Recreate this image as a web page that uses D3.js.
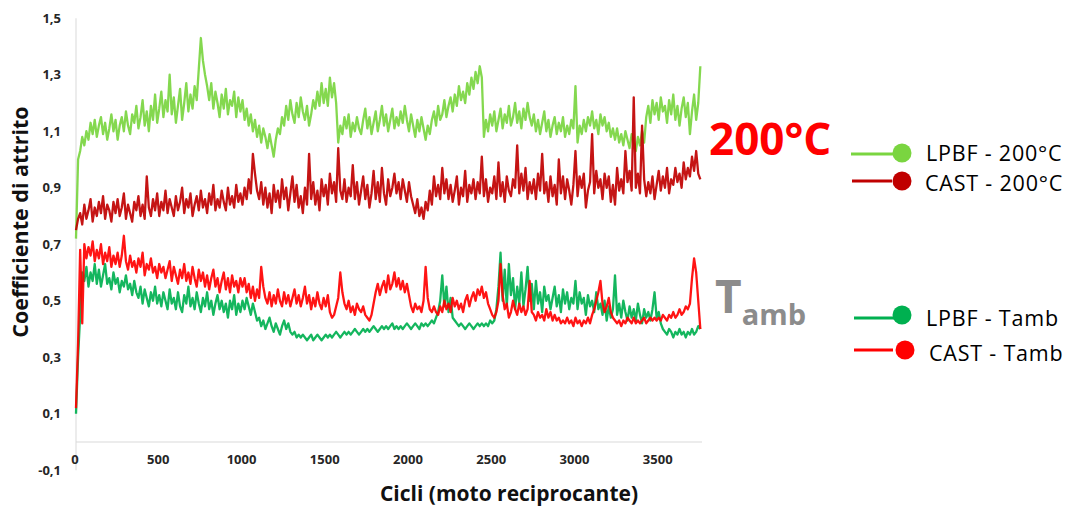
<!DOCTYPE html>
<html>
<head>
<meta charset="utf-8">
<script src="https://cdn.jsdelivr.net/npm/d3@7"></script>
<style>
  html, body { margin: 0; padding: 0; background: #fff; }
  svg { display: block; font-family: "Open Sans", sans-serif; }
</style>
</head>
<body>
<svg id="chart" width="1079" height="508"></svg>
<script>
const cycleStep = 12.5;
const xTicks = [0, 500, 1000, 1500, 2000, 2500, 3000, 3500];
const yTicks = [-0.1, 0.1, 0.3, 0.5, 0.7, 0.9, 1.1, 1.3, 1.5];

const lpbf200 = [
0.72,1.00,1.03,1.08,1.05,1.10,1.07,1.13,1.09,1.14,1.08,1.12,1.15,1.09,1.13,1.07,1.11,1.16,1.10,1.14,
1.07,1.12,1.15,1.10,1.17,1.12,1.09,1.16,1.13,1.19,1.11,1.15,1.21,1.12,1.17,1.10,1.19,1.14,1.23,1.13,
1.18,1.24,1.15,1.21,1.17,1.30,1.16,1.22,1.13,1.19,1.25,1.14,1.20,1.27,1.17,1.23,1.18,1.26,1.21,1.32,
1.43,1.35,1.30,1.26,1.21,1.27,1.18,1.24,1.20,1.15,1.23,1.18,1.25,1.16,1.21,1.19,1.24,1.15,1.22,1.17,
1.21,1.14,1.18,1.12,1.16,1.10,1.14,1.08,1.12,1.06,1.11,1.08,1.04,1.09,1.05,1.01,1.07,1.11,1.09,1.15,
1.12,1.19,1.14,1.21,1.16,1.13,1.20,1.15,1.22,1.17,1.14,1.19,1.12,1.16,1.21,1.18,1.24,1.19,1.27,1.20,
1.25,1.19,1.29,1.22,1.27,1.20,1.06,1.12,1.09,1.15,1.11,1.16,1.08,1.13,1.10,1.15,1.11,1.09,1.14,1.18,
1.11,1.15,1.09,1.13,1.17,1.10,1.14,1.19,1.12,1.16,1.10,1.14,1.18,1.11,1.15,1.12,1.17,1.13,1.19,1.14,
1.10,1.16,1.12,1.08,1.14,1.10,1.15,1.11,1.07,1.12,1.09,1.14,1.17,1.12,1.19,1.14,1.16,1.21,1.15,1.19,
1.22,1.17,1.23,1.19,1.26,1.21,1.24,1.20,1.27,1.23,1.29,1.25,1.31,1.27,1.33,1.29,1.08,1.14,1.10,1.16,
1.12,1.17,1.10,1.14,1.18,1.11,1.16,1.13,1.19,1.12,1.15,1.20,1.13,1.17,1.11,1.18,1.14,1.20,1.15,1.12,
1.16,1.10,1.14,1.09,1.13,1.17,1.10,1.14,1.08,1.12,1.15,1.09,1.13,1.10,1.15,1.08,1.12,1.09,1.14,1.11,
1.26,1.06,1.12,1.09,1.14,1.10,1.15,1.12,1.17,1.11,1.14,1.09,1.16,1.12,1.15,1.10,1.13,1.08,1.11,1.07,
1.11,1.06,1.09,1.05,1.10,1.07,1.04,1.09,1.06,1.03,1.08,1.05,1.10,1.06,1.15,1.19,1.13,1.21,1.16,1.20,
1.14,1.22,1.17,1.19,1.13,1.21,1.16,1.23,1.14,1.19,1.12,1.18,1.22,1.15,1.20,1.09,1.17,1.23,1.14,1.20,
1.33];

const cast200 = [
0.75,0.79,0.81,0.77,0.84,0.79,0.82,0.86,0.78,0.83,0.80,0.85,0.81,0.87,0.79,0.84,0.82,0.78,0.85,0.81,
0.86,0.80,0.83,0.88,0.79,0.84,0.81,0.78,0.85,0.82,0.87,0.80,0.84,0.79,0.94,0.83,0.80,0.86,0.82,0.88,
0.80,0.85,0.82,0.89,0.81,0.86,0.83,0.80,0.87,0.82,0.85,0.90,0.81,0.86,0.83,0.88,0.80,0.84,0.87,0.82,
0.89,0.83,0.86,0.81,0.88,0.84,0.91,0.82,0.86,0.83,0.89,0.85,0.82,0.90,0.84,0.87,0.83,0.91,0.85,0.88,
0.84,0.90,0.86,0.93,0.88,1.02,0.95,0.89,0.86,0.92,0.84,0.90,0.83,0.88,0.81,0.91,0.85,0.89,0.83,0.93,
0.86,0.90,0.82,0.88,0.94,0.85,0.91,0.83,0.87,0.81,0.90,0.84,1.02,0.86,0.92,0.84,0.89,0.82,0.93,0.87,
0.91,0.84,0.95,0.88,0.92,0.85,1.04,0.89,0.86,0.93,0.85,0.90,0.87,0.98,0.86,0.92,0.84,0.89,0.94,0.86,
0.91,0.83,0.88,0.96,0.86,0.92,0.85,0.97,0.88,0.84,0.93,0.87,0.90,0.95,0.88,0.92,0.86,0.93,0.89,0.85,
0.92,0.87,0.84,0.81,0.86,0.80,0.83,0.79,0.85,0.82,0.89,0.84,0.94,0.87,0.91,0.86,0.97,0.88,0.93,0.86,
0.91,0.85,0.89,0.94,0.84,0.90,0.87,0.96,0.85,0.91,0.88,0.93,0.86,0.92,0.88,1.01,0.87,0.93,0.85,0.90,
0.88,0.94,0.86,0.99,0.87,0.92,0.85,0.94,0.89,0.87,0.93,0.90,1.05,0.88,0.95,0.89,0.97,0.86,0.92,0.88,
0.93,0.86,0.95,0.89,1.02,0.88,0.92,0.85,0.94,0.87,0.91,0.84,1.00,0.88,0.94,0.86,0.93,0.89,0.84,0.91,
1.03,0.87,0.94,0.90,0.95,0.83,0.89,0.92,1.09,0.88,0.96,0.90,0.93,0.86,0.95,0.90,0.94,0.85,0.91,0.84,
0.97,0.89,0.93,0.88,1.03,0.92,0.96,0.89,1.22,0.90,0.95,0.88,1.12,0.93,0.87,0.92,0.88,0.94,0.86,0.91,
0.96,0.89,0.94,0.90,0.97,0.88,0.93,0.91,0.97,0.92,0.95,0.90,0.99,0.93,0.97,0.94,1.01,0.96,1.03,0.95,
0.93];

const lpbfTamb = [
0.10,0.30,0.45,0.60,0.57,0.62,0.55,0.60,0.57,0.63,0.56,0.61,0.55,0.59,0.63,0.56,0.58,0.54,0.60,0.56,
0.58,0.53,0.57,0.55,0.59,0.54,0.56,0.52,0.57,0.53,0.51,0.55,0.49,0.54,0.51,0.48,0.53,0.50,0.55,0.49,
0.52,0.48,0.53,0.50,0.47,0.54,0.49,0.51,0.47,0.53,0.48,0.46,0.52,0.49,0.55,0.48,0.51,0.47,0.53,0.49,
0.46,0.51,0.48,0.53,0.47,0.50,0.45,0.49,0.52,0.47,0.50,0.46,0.49,0.44,0.50,0.47,0.52,0.45,0.49,0.46,
0.50,0.47,0.51,0.48,0.45,0.49,0.46,0.43,0.44,0.41,0.43,0.40,0.42,0.44,0.41,0.39,0.42,0.40,0.38,0.41,
0.43,0.40,0.42,0.39,0.38,0.39,0.37,0.38,0.37,0.38,0.37,0.36,0.37,0.38,0.36,0.37,0.38,0.37,0.36,0.37,
0.38,0.37,0.38,0.37,0.38,0.39,0.38,0.37,0.38,0.39,0.38,0.39,0.38,0.39,0.40,0.39,0.38,0.39,0.40,0.39,
0.40,0.39,0.40,0.41,0.40,0.39,0.40,0.41,0.40,0.41,0.40,0.41,0.42,0.40,0.41,0.40,0.41,0.40,0.41,0.42,
0.41,0.40,0.41,0.42,0.41,0.40,0.42,0.41,0.42,0.41,0.42,0.43,0.42,0.44,0.46,0.50,0.59,0.48,0.55,0.46,
0.51,0.44,0.43,0.42,0.41,0.42,0.41,0.40,0.41,0.42,0.41,0.40,0.41,0.42,0.41,0.42,0.41,0.42,0.41,0.43,
0.42,0.43,0.47,0.55,0.67,0.50,0.61,0.48,0.63,0.52,0.58,0.47,0.55,0.49,0.60,0.48,0.54,0.62,0.50,0.56,
0.47,0.57,0.49,0.53,0.46,0.55,0.50,0.52,0.47,0.51,0.55,0.48,0.52,0.46,0.54,0.49,0.53,0.47,0.51,0.49,
0.57,0.47,0.53,0.49,0.51,0.45,0.52,0.48,0.50,0.46,0.53,0.47,0.49,0.45,0.50,0.43,0.48,0.44,0.47,0.59,
0.45,0.49,0.44,0.50,0.46,0.43,0.48,0.44,0.47,0.43,0.49,0.45,0.42,0.47,0.44,0.46,0.43,0.47,0.53,0.44,
0.46,0.42,0.40,0.39,0.38,0.40,0.39,0.37,0.39,0.38,0.40,0.38,0.39,0.37,0.39,0.38,0.40,0.38,0.39,0.41,
0.40];

const castTamb = [
0.12,0.35,0.68,0.42,0.70,0.65,0.69,0.66,0.71,0.64,0.68,0.65,0.70,0.63,0.67,0.64,0.69,0.62,0.66,0.63,
0.67,0.62,0.66,0.73,0.64,0.61,0.66,0.62,0.64,0.60,0.65,0.62,0.67,0.59,0.63,0.61,0.65,0.60,0.62,0.58,
0.63,0.60,0.62,0.58,0.61,0.64,0.57,0.62,0.59,0.56,0.61,0.58,0.63,0.57,0.60,0.56,0.62,0.58,0.55,0.61,
0.57,0.60,0.55,0.59,0.54,0.58,0.61,0.55,0.58,0.53,0.57,0.60,0.54,0.58,0.53,0.59,0.55,0.57,0.53,0.58,
0.55,0.58,0.53,0.56,0.51,0.55,0.50,0.54,0.51,0.62,0.55,0.51,0.49,0.53,0.48,0.52,0.49,0.54,0.50,0.48,
0.53,0.49,0.52,0.48,0.51,0.54,0.49,0.52,0.48,0.51,0.55,0.49,0.52,0.47,0.51,0.48,0.53,0.49,0.47,0.51,
0.48,0.52,0.46,0.44,0.45,0.48,0.51,0.60,0.53,0.49,0.47,0.50,0.46,0.48,0.45,0.49,0.47,0.46,0.48,0.45,
0.44,0.43,0.45,0.49,0.53,0.56,0.52,0.55,0.57,0.53,0.59,0.54,0.56,0.60,0.55,0.58,0.54,0.57,0.53,0.56,
0.52,0.48,0.46,0.49,0.47,0.48,0.46,0.50,0.62,0.51,0.47,0.46,0.48,0.46,0.45,0.48,0.46,0.50,0.47,0.49,
0.46,0.51,0.48,0.50,0.47,0.49,0.46,0.50,0.52,0.48,0.51,0.53,0.50,0.54,0.52,0.55,0.51,0.53,0.49,0.47,
0.45,0.44,0.46,0.50,0.63,0.52,0.47,0.49,0.44,0.46,0.50,0.47,0.45,0.49,0.46,0.48,0.45,0.47,0.57,0.46,
0.45,0.43,0.46,0.44,0.45,0.43,0.47,0.44,0.46,0.43,0.45,0.43,0.44,0.42,0.43,0.42,0.44,0.42,0.43,0.41,
0.44,0.42,0.43,0.41,0.43,0.42,0.44,0.42,0.45,0.47,0.50,0.53,0.57,0.49,0.46,0.48,0.51,0.46,0.44,0.43,
0.42,0.43,0.41,0.43,0.42,0.44,0.43,0.42,0.44,0.42,0.43,0.42,0.43,0.44,0.42,0.43,0.44,0.43,0.44,0.43,
0.44,0.43,0.45,0.44,0.43,0.45,0.44,0.46,0.44,0.45,0.47,0.45,0.46,0.48,0.47,0.49,0.58,0.65,0.60,0.50,
0.40];

const seriesNames = ["LPBF - 200°C", "CAST - 200°C", "LPBF - Tamb", "CAST - Tamb"];
const seriesColors = ["#7ad540", "#c00000", "#00b050", "#ff0000"];
const seriesData = [lpbf200, cast200, lpbfTamb, castTamb];

// ---- chart ----
const svg = d3.select("#chart");
const x = d3.scaleLinear().domain([0, 3760]).range([76, 702]);
const y = d3.scaleLinear().domain([-0.1, 1.5]).range([470.25, 18.25]);
const fmt = v => d3.format(".1f")(v).replace(".", ",").replace("−", "-");

// axis lines
svg.append("line").attr("x1", x(0)).attr("x2", x(0))
  .attr("y1", y(1.5)).attr("y2", y(-0.1))
  .attr("stroke", "#d9d9d9").attr("stroke-width", 1);
svg.append("line").attr("x1", x(0)).attr("x2", x(3760))
  .attr("y1", y(0)).attr("y2", y(0))
  .attr("stroke", "#d9d9d9").attr("stroke-width", 1);

// y tick labels
const yAxis = d3.axisLeft(y).tickValues(yTicks).tickSize(0).tickPadding(0).tickFormat(fmt);
const gy = svg.append("g").attr("transform", "translate(61,0)").call(yAxis);
gy.select(".domain").remove();
gy.selectAll("text").attr("font-family", "Open Sans").attr("font-weight", "700")
  .attr("font-size", 13).attr("fill", "#262626");

// x tick labels
const xAxis = d3.axisBottom(x).tickValues(xTicks).tickSize(0).tickPadding(0).tickFormat(d3.format("d"));
const gx = svg.append("g").attr("transform", "translate(-1.5,455)").call(xAxis);
gx.select(".domain").remove();
gx.selectAll("text").attr("font-family", "Open Sans").attr("font-weight", "700")
  .attr("font-size", 13).attr("fill", "#262626");

// lines
const line = d3.line()
  .x((d, i) => x(i * cycleStep))
  .y(d => y(d));
seriesData.forEach((data, k) => {
  svg.append("path").datum(data)
    .attr("d", line)
    .attr("fill", "none")
    .attr("stroke", seriesColors[k])
    .attr("stroke-width", 2.3)
    .attr("stroke-linejoin", "round")
    .attr("stroke-opacity", 0.92);
});

// axis titles
svg.append("text")
  .attr("transform", "translate(28,222) rotate(-90)")
  .attr("text-anchor", "middle")
  .attr("font-family", "Open Sans").attr("font-weight", "700").attr("font-size", 21.5)
  .attr("fill", "#111")
  .text("Coefficiente di attrito");
svg.append("text")
  .attr("x", 509).attr("y", 501)
  .attr("text-anchor", "middle")
  .attr("font-family", "Open Sans").attr("font-weight", "700").attr("font-size", 21)
  .attr("fill", "#111")
  .text("Cicli (moto reciprocante)");

// group labels
svg.append("text").attr("x", 709).attr("y", 155)
  .attr("font-family", "Open Sans").attr("font-weight", "700").attr("font-size", 44)
  .attr("fill", "#ff0000").text("200°C");
const tamb = svg.append("text").attr("x", 715).attr("y", 313)
  .attr("font-family", "Open Sans").attr("font-weight", "700").attr("fill", "#8c8c8c");
tamb.append("tspan").attr("font-size", 46).text("T");
tamb.append("tspan").attr("font-size", 29).attr("dy", 12).text("amb");

// legend
const legendRows = [
  {lx1: 851, lx2: 893, ly: 154, cx: 902, cy: 153, tx: 926, ty: 161},
  {lx1: 852, lx2: 892, ly: 181, cx: 902, cy: 181, tx: 925, ty: 191},
  {lx1: 854, lx2: 897, ly: 318, cx: 902, cy: 315, tx: 926, ty: 326},
  {lx1: 854, lx2: 893, ly: 350, cx: 905, cy: 350, tx: 929, ty: 361}
];
legendRows.forEach((r, k) => {
  const g = svg.append("g");
  g.append("line").attr("x1", r.lx1).attr("x2", r.lx2).attr("y1", r.ly).attr("y2", r.ly)
    .attr("stroke", seriesColors[k]).attr("stroke-width", 3);
  g.append("circle").attr("cx", r.cx).attr("cy", r.cy).attr("r", 9.5).attr("fill", seriesColors[k]);
  g.append("text").attr("x", r.tx).attr("y", r.ty)
    .attr("font-family", "Open Sans").attr("font-size", 21.5).attr("letter-spacing", 0.8)
    .attr("fill", "#000")
    .text(seriesNames[k]);
});
</script>
</body>
</html>
